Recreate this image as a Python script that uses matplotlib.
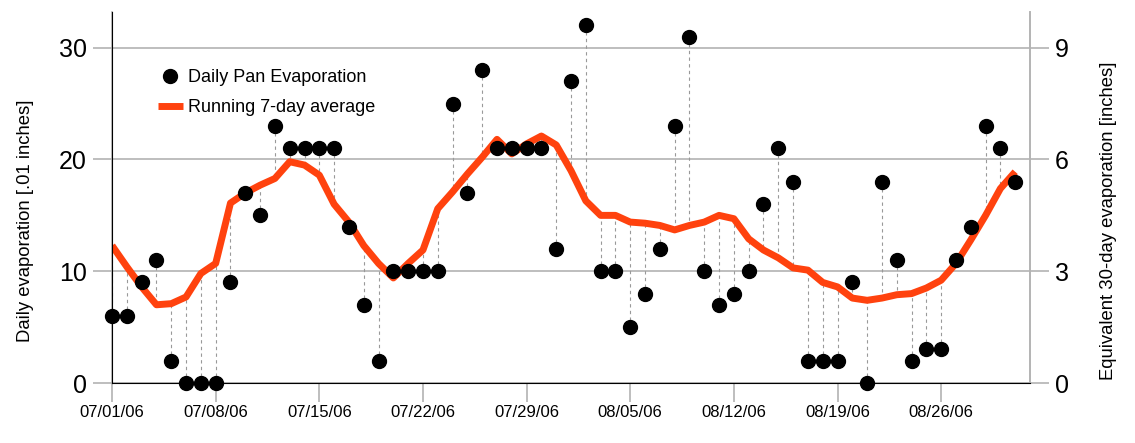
import numpy as np
import pandas as pd
import matplotlib
matplotlib.use("Agg")
import matplotlib.pyplot as plt
import matplotlib.dates as mdates

plt.rcParams['font.family'] = ['Liberation Sans', 'DejaVu Sans']

# daily pan evaporation, 07/01/06 .. 08/31/06 [.01 inches]
days = pd.date_range("2006-07-01", periods=62, freq="D")
daily = [6, 6, 9, 11, 2, 0, 0, 0, 9, 17, 15, 23, 21, 21, 21, 21,
         14, 7, 2, 10, 10, 10, 10, 25, 17, 28, 21, 21, 21, 21, 12, 27,
         32, 10, 10, 5, 8, 12, 23, 31, 10, 7, 8, 10, 16, 21, 18, 2,
         2, 2, 9, 0, 18, 11, 2, 3, 3, 11, 14, 23, 21, 18]
# running 7-day average as plotted
avg7 = [12.3, 10.4, 8.6, 7.0, 7.1, 7.7, 9.8, 10.7, 16.1, 17.0, 17.7, 18.3,
        19.8, 19.5, 18.6, 16.0, 14.4, 12.3, 10.7, 9.4, 10.7, 11.9, 15.6,
        17.1, 18.7, 20.2, 21.8, 20.5, 21.4, 22.1, 21.3, 19.0, 16.3, 15.0,
        15.0, 14.4, 14.3, 14.1, 13.7, 14.1, 14.4, 15.0, 14.7, 12.9, 11.9,
        11.2, 10.3, 10.1, 9.0, 8.6, 7.6, 7.4, 7.6, 7.9, 8.0, 8.5, 9.2,
        10.7, 12.8, 15.0, 17.4, 18.9]

left_ticks = [0, 10, 20, 30]
right_ticks = [0, 3, 6, 9]

gray = "#b3b3b3"

fig = plt.figure(figsize=(11.35, 4.43), dpi=100)
ax = fig.add_axes([0.0987, 0.1354, 0.8088, 0.8376])

# dashed drop lines from each day to the average
ax.vlines(days, daily, avg7, colors="#999999", linestyles=(0, (3, 3)), lw=0.8, zorder=2)
ax.plot(days, avg7, color="#ff420e", lw=5, solid_capstyle="butt",
        label="Running 7-day average", zorder=3)
ax.plot(days, daily, "o", color="black", ms=10, label="Daily Pan Evaporation",
        zorder=4, clip_on=False)

ax.set_ylim(0, 33.2)
ax.set_xlim(days[0], days[0] + pd.Timedelta(days=62))
ax.set_yticks(left_ticks)
ax.set_xticks(pd.date_range("2006-07-01", "2006-08-31", freq="7D"))
ax.xaxis.set_major_formatter(mdates.DateFormatter("%m/%d/%y"))
ax.grid(axis="y", color=gray, lw=1.2)
ax.set_axisbelow(True)
ax.spines["top"].set_visible(False)
for s in ["left", "right", "bottom"]:
    ax.spines[s].set_color(gray)
    ax.spines[s].set_linewidth(1.2)
ax.tick_params(axis="y", length=14, width=1.2, color=gray, labelsize=18, pad=4)
ax.tick_params(axis="x", length=14, width=1.2, color=gray, labelsize=12, pad=2)
ax.set_ylabel("Daily evaporation [.01 inches]", fontsize=13.3, labelpad=18)
ax.yaxis.label.set_y(0.437)

ax2 = ax.twinx()
ax2.set_ylim(0, 33.2 * 0.3)
ax2.set_yticks(right_ticks)
ax2.spines["top"].set_visible(False)
ax2.spines["right"].set_color(gray)
ax2.spines["right"].set_linewidth(1.2)
ax2.tick_params(axis="y", length=14, width=1.2, color=gray, labelsize=18, pad=4)
ax2.set_ylabel("Equivalent 30-day evaporation [inches]", fontsize=13.3, labelpad=22)
ax2.yaxis.label.set_y(0.437)

h, l = ax.get_legend_handles_labels()
ax.legend(h[::-1], l[::-1], loc="upper left", bbox_to_anchor=(0.042, 0.865),
          frameon=False, fontsize=13, handlelength=1.4, handletextpad=0.3,
          labelspacing=0.7, borderaxespad=0)

fig.savefig("out.png", dpi=100)
